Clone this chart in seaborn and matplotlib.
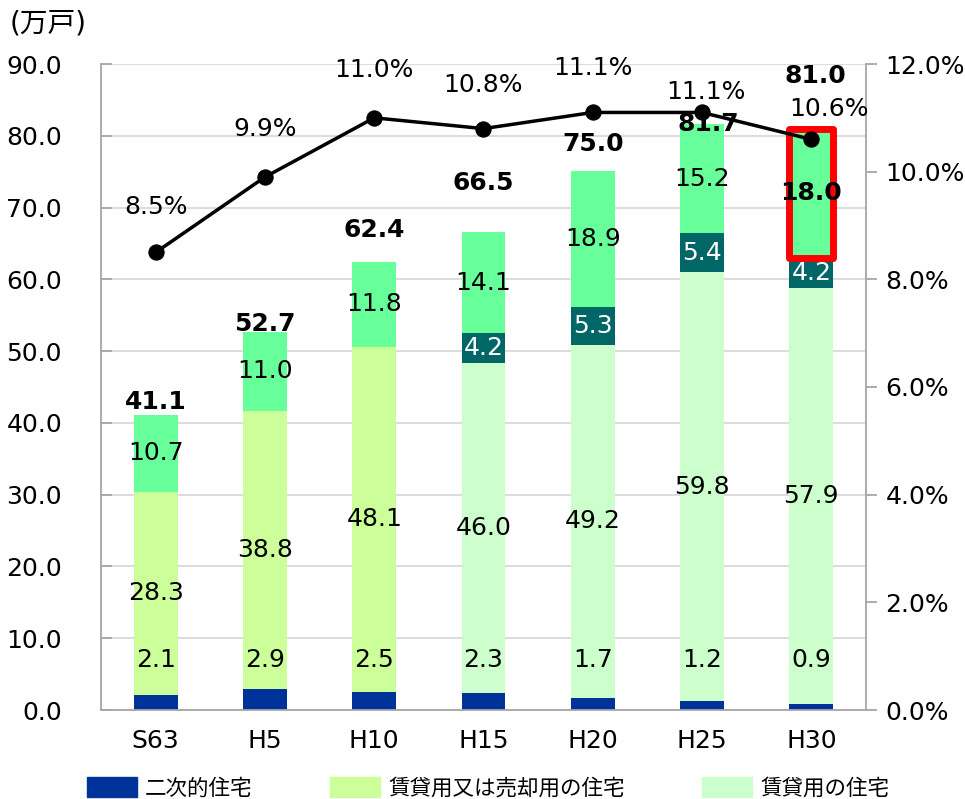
import numpy as np
import seaborn as sns
import matplotlib.pyplot as plt
from matplotlib.patches import Rectangle, Patch

# data
years = ['S63', 'H5', 'H10', 'H15', 'H20', 'H25', 'H30']
second_home = [2.1, 2.9, 2.5, 2.3, 1.7, 1.2, 0.9]
rent_or_sale = [28.3, 38.8, 48.1, 0, 0, 0, 0]
rent = [0, 0, 0, 46.0, 49.2, 59.8, 57.9]
sale = [0, 0, 0, 4.2, 5.3, 5.4, 4.2]
other = [10.7, 11.0, 11.8, 14.1, 18.9, 15.2, 18.0]
totals = [41.1, 52.7, 62.4, 66.5, 75.0, 81.7, 81.0]
rate = [8.5, 9.9, 11.0, 10.8, 11.1, 11.1, 10.6]

c_second = '#003399'
c_rs = '#CCFF99'
c_rent = '#CCFFCC'
c_sale = '#006666'
c_other = '#66FF99'

sns.set_style('white')
plt.rcParams['font.family'] = ['DejaVu Sans', 'Noto Sans CJK JP']
plt.rcParams['text.color'] = 'black'
plt.rcParams['xtick.labelcolor'] = 'black'
plt.rcParams['ytick.labelcolor'] = 'black'

fig = plt.figure(figsize=(9.65, 7.99), dpi=100)
ax = fig.add_axes([101 / 965, 1 - 710 / 799, 765 / 965, 646 / 799])

# stacked bars by overlaying cumulative sums, tallest first
layers = [second_home, rent_or_sale, rent, sale, other]
colors = [c_second, c_rs, c_rent, c_sale, c_other]
cum = np.cumsum(np.array(layers), axis=0)
for i in range(len(layers) - 1, -1, -1):
    sns.barplot(x=years, y=cum[i], color=colors[i], width=0.4,
                saturation=1, linewidth=0, ax=ax, zorder=2)

ax.set_ylim(0, 90)
ax.set_yticks(np.arange(0, 91, 10))
ax.set_yticklabels(['%.1f' % v for v in np.arange(0, 91, 10)])
ax.yaxis.grid(True, color='#D9D9D9', lw=1.3)
ax.set_axisbelow(True)
ax.set_xticks(range(7))
ax.set_xticklabels(years)
ax.set_xticks(np.arange(-0.5, 7, 1), minor=True)
ax.tick_params(axis='x', which='major', length=0, labelsize=18, pad=14)
ax.tick_params(axis='x', which='minor', length=10, color='#A6A6A6', width=1.3)
ax.tick_params(axis='y', direction='in', length=8, color='#A6A6A6',
               width=1.3, labelsize=18, pad=28)
ax.set_xlabel('')
ax.set_ylabel('')
for s in ['left', 'bottom']:
    ax.spines[s].set_color('#A6A6A6')
    ax.spines[s].set_linewidth(1.3)
ax.spines['top'].set_visible(False)
ax.spines['right'].set_visible(False)

# segment labels
for i in range(7):
    ax.text(i, 7.0, '%.1f' % second_home[i], ha='center', va='center', fontsize=18, zorder=6)
    if rent_or_sale[i] > 0:
        ax.text(i, cum[0][i] + rent_or_sale[i] / 2, '%.1f' % rent_or_sale[i],
                ha='center', va='center', fontsize=18, zorder=6)
    if rent[i] > 0:
        ax.text(i, cum[1][i] + rent[i] / 2, '%.1f' % rent[i],
                ha='center', va='center', fontsize=18, zorder=6)
    if sale[i] > 0:
        ax.text(i, cum[2][i] + sale[i] / 2, '%.1f' % sale[i],
                ha='center', va='center', fontsize=18, color='white', zorder=6)
    ax.text(i, cum[3][i] + other[i] / 2, '%.1f' % other[i],
            ha='center', va='center', fontsize=18, zorder=6,
            fontweight='bold' if i == 6 else 'normal')

# total labels (offsets in px above bar top)
tot_dy = [13, 8, 32, 50, 28, 0, 53]
tot_dx = [0, 0, 0, 0, 0, 6, 4]
for i in range(7):
    ax.annotate('%.1f' % totals[i], (i, totals[i]), xytext=(tot_dx[i] * 0.72, tot_dy[i] * 0.72),
                textcoords='offset points', ha='center', va='center',
                fontsize=18, fontweight='bold', zorder=6)

# highlight box
ax.add_patch(Rectangle((6 - 0.2, cum[3][6]), 0.4, other[6], fill=False,
                       ec='#FF0000', lw=5, joinstyle='round', zorder=5))

# vacancy rate line
ax2 = ax.twinx()
sns.lineplot(x=np.arange(7), y=rate, ax=ax2, color='black', lw=2.5,
             marker='o', markersize=11, markeredgecolor='black', zorder=6)
ax2.set_ylim(0, 12)
ax2.set_yticks(np.arange(0, 13, 2))
ax2.set_yticklabels(['%.1f%%' % v for v in np.arange(0, 13, 2)])
ax2.tick_params(axis='y', direction='out', length=8, color='#A6A6A6',
                width=1.3, labelsize=18, pad=6)
for s in ['left', 'top', 'bottom']:
    ax2.spines[s].set_visible(False)
ax2.spines['right'].set_color('#A6A6A6')
ax2.spines['right'].set_linewidth(1.3)
ax2.set_ylabel('')
ax.set_xlim(-0.5, 6.5)

rate_dy = [45, 48, 48, 44, 44, 20, 30]
rate_dx = [0, 0, 0, 0, 0, 4, 18]
for i in range(7):
    ax2.annotate('%.1f%%' % rate[i], (i, rate[i]), xytext=(rate_dx[i] * 0.72, rate_dy[i] * 0.72),
                 textcoords='offset points', ha='center', va='center', fontsize=18, zorder=7)

fig.text(0.010, 0.971, '(万戸)', fontsize=20, va='center', ha='left')

handles = [Patch(color=c_second, label='二次的住宅'),
           Patch(color=c_rs, label='賃貸用又は売却用の住宅'),
           Patch(color=c_rent, label='賃貸用の住宅')]
fig.legend(handles=handles, loc='center left', bbox_to_anchor=(87 / 965, 0.014),
           ncol=3, frameon=False, fontsize=15.5, handlelength=2.3, handleheight=1.0,
           handletextpad=0.4, columnspacing=3.6, borderpad=0, borderaxespad=0)

fig.savefig('out.png', dpi=100)
